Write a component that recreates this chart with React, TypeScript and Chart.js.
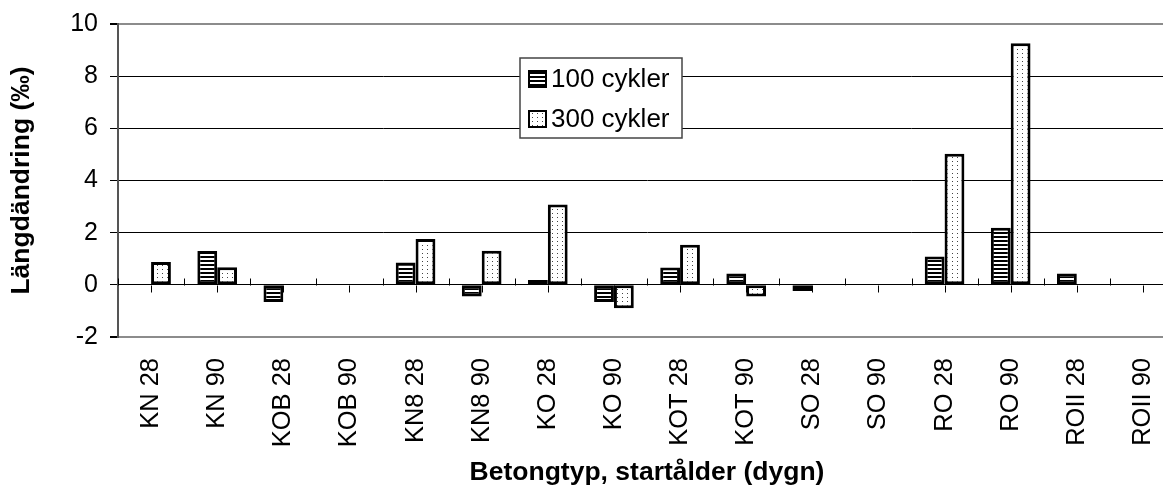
import { useEffect, useRef } from 'react';
import { Chart, registerables } from 'chart.js';

Chart.register(...registerables);

const categories = [
  'KN 28', 'KN 90', 'KOB 28', 'KOB 90', 'KN8 28', 'KN8 90', 'KO 28', 'KO 90',
  'KOT 28', 'KOT 90', 'SO 28', 'SO 90', 'RO 28', 'RO 90', 'ROII 28', 'ROII 90',
];
const cycles100: (number | null)[] = [
  null, 1.3, -0.66, null, 0.86, -0.45, 0.19, -0.66, 0.66, 0.43, -0.24, null, 1.09, 2.19, 0.43, null,
];
const cycles300: (number | null)[] = [
  0.88, 0.67, null, null, 1.76, 1.31, 3.08, -0.9, 1.54, -0.45, null, null, 5.03, 9.26, null, null,
];
const seriesLabels = ['100 cykler', '300 cykler'];
const yMin = -2;
const yMax = 10;
const yStep = 2;
const xTitle = 'Betongtyp, startålder (dygn)';
const yTitle = 'Längdändring (‰)';

const FONT = '"Liberation Sans", Arial, sans-serif';

function stripePattern(): CanvasPattern {
  const c = document.createElement('canvas');
  c.width = 4;
  c.height = 4;
  const g = c.getContext('2d')!;
  g.fillStyle = '#ffffff';
  g.fillRect(0, 0, 4, 4);
  g.fillStyle = '#000000';
  g.fillRect(0, 0, 4, 2);
  return g.createPattern(c, 'repeat')!;
}

function dotPattern(): CanvasPattern {
  const c = document.createElement('canvas');
  c.width = 5;
  c.height = 4;
  const g = c.getContext('2d')!;
  g.fillStyle = '#ffffff';
  g.fillRect(0, 0, 5, 4);
  g.fillStyle = '#444444';
  g.fillRect(2, 1, 1, 1);
  return g.createPattern(c, 'repeat')!;
}

const axisTicks = {
  id: 'axisTicks',
  beforeDatasetsDraw(chart: any) {
    const xs = chart.scales.x;
    const ys = chart.scales.y;
    const ctx = chart.ctx as CanvasRenderingContext2D;
    const y0 = Math.round(ys.getPixelForValue(0)) + 0.5;
    ctx.save();
    ctx.strokeStyle = '#000';
    ctx.lineWidth = 1;
    ctx.beginPath();
    for (let i = 0; i <= categories.length; i++) {
      const bx = Math.round(xs.getPixelForValue(i - 0.5)) + 0.5;
      ctx.moveTo(bx, y0);
      ctx.lineTo(bx, y0 - 7);
    }
    for (let i = 0; i < categories.length; i++) {
      const cx = Math.round(xs.getPixelForValue(i)) + 0.5;
      ctx.moveTo(cx, y0);
      ctx.lineTo(cx, y0 + 7);
    }
    ctx.stroke();
    ctx.restore();
  },
};

const boxLegend = {
  id: 'boxLegend',
  afterDraw(chart: any) {
    const ctx = chart.ctx as CanvasRenderingContext2D;
    const { left, top } = chart.chartArea;
    const bx = left + 402;
    const by = top + 34;
    const bw = 162;
    const bh = 80;
    ctx.save();
    ctx.fillStyle = '#fff';
    ctx.fillRect(bx, by, bw, bh);
    ctx.strokeStyle = '#444';
    ctx.lineWidth = 1.5;
    ctx.strokeRect(bx, by, bw, bh);
    chart.data.datasets.forEach((ds: any, i: number) => {
      const ry = by + 21 + i * 40;
      ctx.fillStyle = ds.backgroundColor;
      ctx.fillRect(bx + 9, ry - 8, 17, 16);
      ctx.strokeStyle = '#000';
      ctx.lineWidth = 2;
      ctx.strokeRect(bx + 9, ry - 8, 17, 16);
      ctx.fillStyle = '#000';
      ctx.font = `26px ${FONT}`;
      ctx.textAlign = 'left';
      ctx.textBaseline = 'middle';
      ctx.fillText(ds.label, bx + 31, ry + 1);
    });
    ctx.restore();
  },
};

export default function App() {
  const ref = useRef<HTMLCanvasElement>(null);
  useEffect(() => {
    if (!ref.current) return;
    const isEdge = (v: number) => v === yMin || v === yMax;
    const chart = new Chart(ref.current, {
      type: 'bar',
      data: {
        labels: categories,
        datasets: [
          {
            label: seriesLabels[0],
            data: cycles100,
            backgroundColor: stripePattern() as any,
            borderColor: '#000',
            borderWidth: 3,
            borderSkipped: false,
            categoryPercentage: 0.6,
            barPercentage: 1.0,
          },
          {
            label: seriesLabels[1],
            data: cycles300,
            backgroundColor: dotPattern() as any,
            borderColor: '#000',
            borderWidth: 3,
            borderSkipped: false,
            categoryPercentage: 0.6,
            barPercentage: 1.0,
          },
        ],
      },
      options: {
        responsive: false,
        animation: false,
        devicePixelRatio: 1,
        layout: { padding: { top: 24, right: 5, left: 0, bottom: 0 } },
        plugins: {
          legend: { display: false },
          tooltip: { enabled: false },
        },
        scales: {
          x: {
            grid: { display: false, drawTicks: false },
            border: { display: false },
            ticks: {
              color: '#000',
              font: { family: FONT, size: 25.5 },
              padding: 21,
              minRotation: 90,
              maxRotation: 90,
              autoSkip: false,
            },
            title: {
              display: true,
              text: xTitle,
              color: '#000',
              font: { family: FONT, size: 26.5, weight: 'bold' },
              padding: { top: 0, bottom: 1 },
            },
            afterFit: (s: any) => {
              s.height = 153;
              s.paddingLeft = 0;
              s.paddingRight = 0;
            },
          },
          y: {
            min: yMin,
            max: yMax,
            ticks: {
              stepSize: yStep,
              color: '#000',
              font: { family: FONT, size: 25 },
              padding: 12,
            },
            grid: {
              color: (c: any) => (isEdge(c.tick?.value) ? '#8c8c8c' : '#000'),
              lineWidth: (c: any) => (isEdge(c.tick?.value) ? 2 : 1),
              tickColor: '#000',
              tickLength: 8,
            },
            border: { display: true, color: '#555', width: 2 },
            title: {
              display: true,
              text: yTitle,
              color: '#000',
              font: { family: FONT, size: 26.5, weight: 'bold' },
              padding: { top: 6, bottom: 0 },
            },
            afterFit: (s: any) => {
              s.width = 118;
              s.paddingTop = 0;
              s.paddingBottom = 0;
            },
          },
        },
      },
      plugins: [axisTicks, boxLegend],
    });
    return () => chart.destroy();
  }, []);
  return (
    <div style={{ position: 'fixed', left: 0, top: 0, width: 1163, height: 490, overflow: 'hidden', background: '#fff' }}>
      <canvas ref={ref} width={1181} height={490} style={{ display: 'block' }} />
    </div>
  );
}
